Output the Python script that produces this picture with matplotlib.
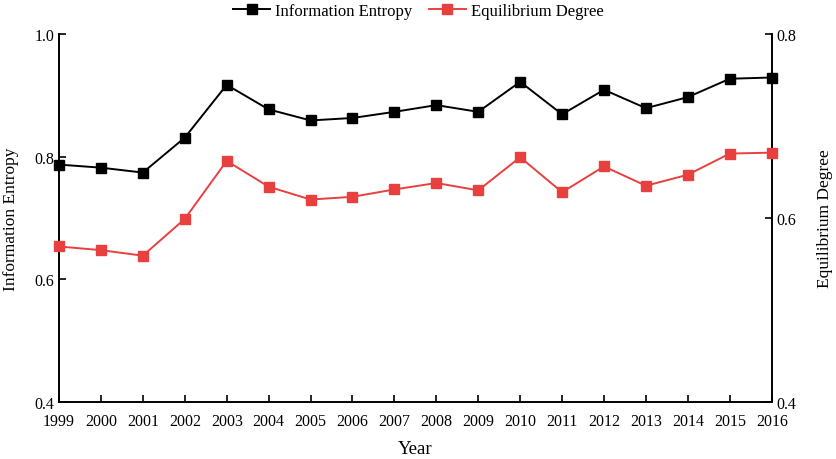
import matplotlib
matplotlib.use("Agg")
import matplotlib.pyplot as plt
from matplotlib.ticker import MultipleLocator

years = list(range(1999, 2017))
info_entropy = [0.787, 0.782, 0.774, 0.831, 0.917, 0.877, 0.859, 0.863, 0.873,
                0.884, 0.873, 0.922, 0.869, 0.909, 0.879, 0.897, 0.927, 0.929]
equilibrium = [0.569, 0.565, 0.559, 0.599, 0.662, 0.634, 0.620, 0.623, 0.631,
               0.638, 0.630, 0.666, 0.628, 0.656, 0.635, 0.647, 0.670, 0.671]

plt.rcParams['font.family'] = ['Liberation Serif', 'DejaVu Serif']

fig = plt.figure(figsize=(8.37, 4.60), dpi=100)
ax = fig.add_axes([0.0705, 0.124, 0.8515, 0.800])
ax2 = ax.twinx()

l1, = ax.plot(years, info_entropy, color='black', marker='s', markersize=6.5,
              linewidth=1.4, label='Information Entropy', clip_on=False, zorder=3)
l2, = ax2.plot(years, equilibrium, color='#e8403f', marker='s', markersize=6.5,
               linewidth=1.4, label='Equilibrium Degree', clip_on=False, zorder=3)

ax.set_xlim(1999, 2016)
ax.set_ylim(0.4, 1.0)
ax2.set_ylim(0.4, 0.8)
ax.set_xticks(years)
ax.set_xticklabels([str(y) for y in years])
ax.yaxis.set_major_locator(MultipleLocator(0.2))
ax2.yaxis.set_major_locator(MultipleLocator(0.2))
ax.yaxis.set_major_formatter(plt.FuncFormatter(lambda v, p: f"{v:.1f}"))
ax2.yaxis.set_major_formatter(plt.FuncFormatter(lambda v, p: f"{v:.1f}"))

for a in (ax, ax2):
    a.spines['top'].set_visible(False)
    for s in a.spines.values():
        s.set_linewidth(1.4)
ax.spines['right'].set_visible(False)
ax2.spines['left'].set_visible(False)
ax2.spines['bottom'].set_visible(False)

ax.tick_params(axis='both', direction='in', length=5, width=1.2, labelsize=11.5)
ax.tick_params(axis='x', pad=8)
ax2.tick_params(axis='y', direction='in', length=5, width=1.2, labelsize=11.5)

ax.set_xlabel('Year', fontsize=13.5, labelpad=8)
ax.set_ylabel('Information Entropy', fontsize=12.5, labelpad=11)
ax2.set_ylabel('Equilibrium Degree', fontsize=12.5, labelpad=15)

fig.legend(handles=[l1, l2], loc='upper center', bbox_to_anchor=(0.5, 1.025),
           ncol=2, frameon=False, fontsize=12, handlelength=2.2,
           columnspacing=1.0, handletextpad=0.3)

fig.savefig('out.png', dpi=100)
